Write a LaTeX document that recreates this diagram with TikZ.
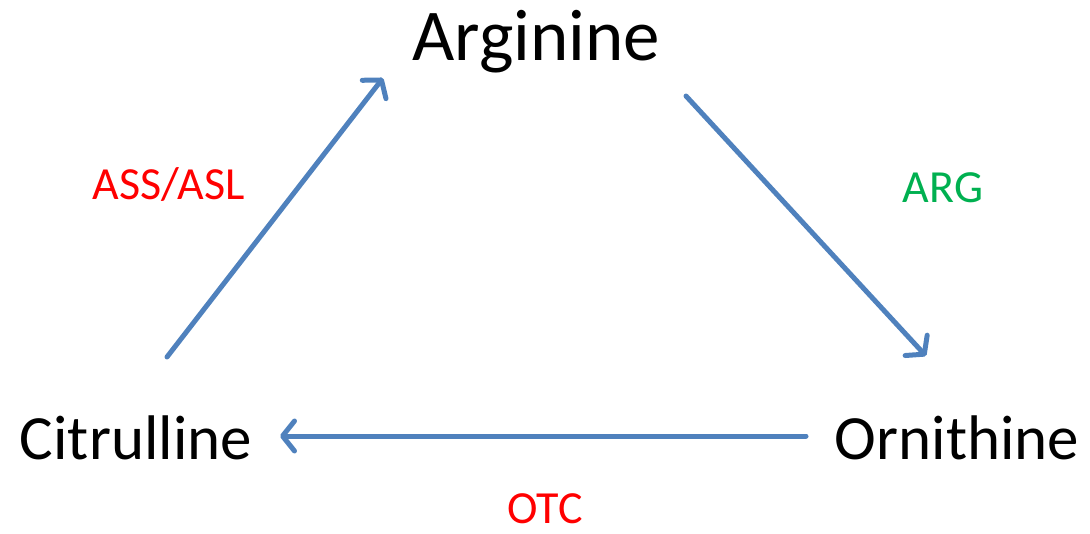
\documentclass[tikz,border=0pt]{standalone}
\usepackage{fontspec}
\setmainfont{Carlito}
\usetikzlibrary{arrows.meta}
\definecolor{flowblue}{HTML}{4F81BD}
\definecolor{enzred}{HTML}{FF0000}
\definecolor{enzgreen}{HTML}{00B050}
\tikzset{
  metab/.style={inner sep=0pt, font=\fontsize{63}{70}\selectfont},
  enzyme/.style={inner sep=0pt, font=\fontsize{46}{52}\selectfont},
  flow/.style={draw=flowblue, line width=5pt, line cap=round,
    -{Straight Barb[length=12pt,width=30pt,line join=round,line cap=round]}}
}
\begin{document}
\begin{tikzpicture}[x=1pt,y=-1pt]
  \useasboundingbox (0,0) rectangle (1090,533);
  % metabolites
  \node[metab, font=\fontsize{73}{80}\selectfont] (arg) at (536,42) {Arginine};
  \node[metab] (cit) at (136,438) {Citrulline};
  \node[metab] (orn) at (957,438) {Ornithine};
  % arrow end points
  \coordinate (c1) at (167,357);
  \coordinate (a1) at (383,78);
  \coordinate (a2) at (686,96);
  \coordinate (o1) at (926,356);
  \coordinate (o2) at (806,436);
  \coordinate (c2) at (280,436);
  \draw[flow] (c1) -- (a1);
  \draw[flow] (a2) -- (o1);
  \draw[flow] (o2) -- (c2);
  % enzymes
  \node[enzyme, text=enzred] (ass) at (169,185) {ASS/ASL};
  \node[enzyme, text=enzgreen] (argase) at (943,188) {ARG};
  \node[enzyme, text=enzred] (otc) at (545,509) {OTC};
\end{tikzpicture}
\end{document}
